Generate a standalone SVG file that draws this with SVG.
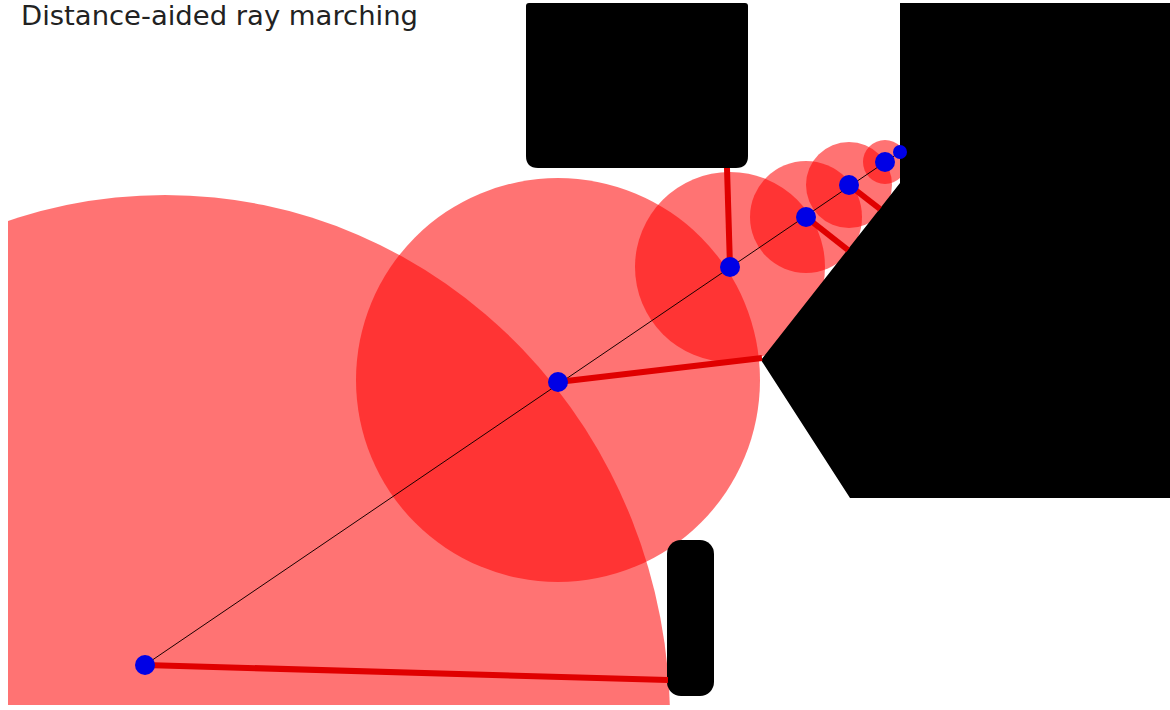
<svg xmlns="http://www.w3.org/2000/svg" width="1170" height="710" viewBox="0 0 1170 710">
  <defs>
    <clipPath id="area"><rect x="8" y="3" width="1162" height="702"/></clipPath>
    <style>
      .disc { fill: #ff0000; fill-opacity: 0.55; }
      .solid { fill: #000000; }
      .dist { stroke: #e00000; stroke-width: 6; stroke-linecap: butt; fill: none; }
      .ray { stroke: #1a0000; stroke-width: 1; fill: none; }
      .pt { fill: #0000e6; }
      .title { font-family: "DejaVu Sans", "Liberation Sans", sans-serif; font-size: 26px; fill: #222222; }
    </style>
  </defs>
  <rect x="0" y="0" width="1170" height="710" fill="#ffffff"/>
  <g clip-path="url(#area)">
    <g id="discs">
      <ellipse id="disc1" class="disc" cx="165" cy="720" rx="505" ry="525"/>
      <circle id="disc2" class="disc" cx="558" cy="380" r="202"/>
      <circle id="disc3" class="disc" cx="730" cy="267" r="95"/>
      <circle id="disc4" class="disc" cx="806" cy="217" r="56"/>
      <circle id="disc5" class="disc" cx="849" cy="185" r="43"/>
      <circle id="disc6" class="disc" cx="885" cy="162" r="22"/>
    </g>
    <g id="obstacles">
      <path id="block-top" class="solid" d="M529,3 H745 Q748,3 748,6 V156 Q748,168 736,168 H538 Q526,168 526,156 V6 Q526,3 529,3 Z"/>
      <polygon id="block-right" class="solid" points="900,3 1170,3 1170,498 850,498 761,360 900,183"/>
      <rect id="block-bottom" class="solid" x="667" y="540" width="47" height="156" rx="14" ry="14"/>
    </g>
    <g id="connectors">
      <line class="ray" x1="145" y1="665" x2="900" y2="152"/>
      <line class="dist" x1="145" y1="665" x2="668" y2="680"/>
      <line class="dist" x1="558" y1="382" x2="762" y2="358"/>
      <line class="dist" x1="730" y1="267" x2="727" y2="168"/>
      <line class="dist" x1="806" y1="217" x2="848" y2="250"/>
      <line class="dist" x1="849" y1="185" x2="880" y2="209"/>
    </g>
    <g id="points">
      <circle id="p1" class="pt" cx="145" cy="665" r="10"/>
      <circle id="p2" class="pt" cx="558" cy="382" r="10"/>
      <circle id="p3" class="pt" cx="730" cy="267" r="10"/>
      <circle id="p4" class="pt" cx="806" cy="217" r="10"/>
      <circle id="p5" class="pt" cx="849" cy="185" r="10"/>
      <circle id="p6" class="pt" cx="885" cy="162" r="10"/>
      <circle id="p7" class="pt" cx="900" cy="152" r="7"/>
    </g>
  </g>
  <text id="title" class="title" x="21" y="25" textLength="397" lengthAdjust="spacingAndGlyphs">Distance-aided ray marching</text>
</svg>
